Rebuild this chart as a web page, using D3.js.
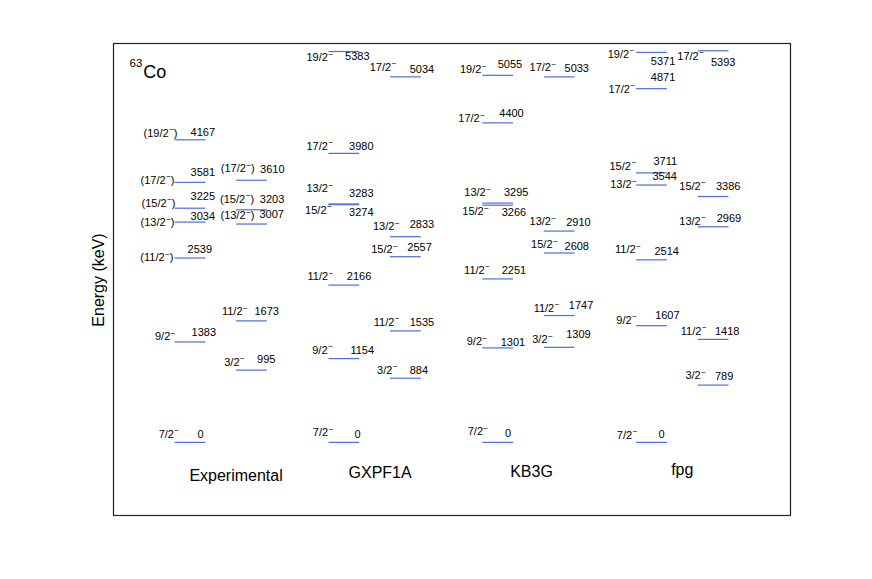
<!DOCTYPE html>
<html>
<head>
<meta charset="utf-8">
<script src="https://cdn.jsdelivr.net/npm/d3@7"></script>
<style>
    body { margin: 0; background: #fff; }
    svg { font-family: "Liberation Sans", Arial, Helvetica, sans-serif; }
</style>
</head>
<body>
<div id="chart"></div>
<script>
// models shown along the bottom
const models = ["Experimental", "GXPF1A", "KB3G", "fpg"];

// experimental levels (column 0 = left stack, 1 = right stack)
const expSpins = ["7/2−", "9/2−", "(11/2−)", "(13/2−)", "(15/2−)", "(17/2−)", "(19/2−)",
    "3/2−", "11/2−", "(13/2−)", "(15/2−)", "(17/2−)"];
const expEnergies = [0, 1383, 2539, 3034, 3225, 3581, 4167, 995, 1673, 3007, 3203, 3610];
const expColumns = [0, 0, 0, 0, 0, 0, 0, 1, 1, 1, 1, 1];

// GXPF1A
const gxSpins = ["7/2−", "9/2−", "11/2−", "15/2−", "13/2−", "17/2−", "19/2−",
    "3/2−", "11/2−", "15/2−", "13/2−", "17/2−"];
const gxEnergies = [0, 1154, 2166, 3274, 3283, 3980, 5383, 884, 1535, 2557, 2833, 5034];
const gxColumns = [0, 0, 0, 0, 0, 0, 0, 1, 1, 1, 1, 1];

// KB3G
const kbSpins = ["7/2−", "9/2−", "11/2−", "15/2−", "13/2−", "17/2−", "19/2−",
    "3/2−", "11/2−", "15/2−", "13/2−", "17/2−"];
const kbEnergies = [0, 1301, 2251, 3266, 3295, 4400, 5055, 1309, 1747, 2608, 2910, 5033];
const kbColumns = [0, 0, 0, 0, 0, 0, 0, 1, 1, 1, 1, 1];

// fpg
const fpgSpins = ["7/2−", "9/2−", "11/2−", "13/2−", "15/2−", "17/2−", "19/2−",
    "3/2−", "11/2−", "13/2−", "15/2−", "17/2−"];
const fpgEnergies = [0, 1607, 2514, 3544, 3711, 4871, 5371, 789, 1418, 2969, 3386, 5393];
const fpgColumns = [0, 0, 0, 0, 0, 0, 0, 1, 1, 1, 1, 1];

// label nudges (px): [spin dx, spin dy, energy dx, energy dy], same order as above
const expNudges = [[4.7, -4.7, 23, -4.7], [1, -1.6, 17, -5.6], [-1, 3.4, 13, -5.3], [0, 4, 16, -1.7],
    [1, -1.5, 16, -7.8], [0, 1.3, 16, -6], [3, -3, 16, -3.4], [8.7, -4.4, 21, -7],
    [11.7, -5.5, 18.4, -5.5], [18.4, -5, 23.4, -6], [18, -7, 23.7, -7], [18.7, -8, 24, -7.5]];
const gxNudges = [[5, -6, 26, -4.7], [4.4, -5, 22, -5], [5, -4.7, 18.4, -4.7], [3.4, 9, 20.7, 11],
    [4.7, -11.6, 20.7, -6.6], [4.7, -3.7, 20.7, -3.7], [4.7, 10, 16.7, 9], [7.7, -4.5, 19.7, -4.5],
    [9.7, -5, 19.7, -5], [8, -3.7, 17.4, -5.3], [9.7, -6.3, 19.7, -8.7], [6.4, -6, 19.7, -4]];
const kbNudges = [[6, -7, 22.7, -5.4], [5, -2.5, 18.4, -2.2], [7.7, -5.2, 19.4, -5.2], [6.7, 10.2, 19.4, 11],
    [8.7, -6.7, 21.7, -6.7], [2.7, -0.5, 17, -6], [4.4, -2.3, 15.4, -7.3], [9, -4.3, 22.4, -9.3],
    [15.7, -4, 25, -6.5], [14, -5, 20.7, -3.3], [12.4, -6, 22.4, -5.4], [12.4, -5.5, 20.7, -5]];
const fpgNudges = [[1.3, -3.4, 22.3, -4.4], [0.7, -2, 19, -6.7], [4.7, -6.7, 18.3, -5], [0.7, 3, 16.3, -5.3],
    [0, -3.2, 17.3, -8.2], [-1, 4.3, 14.7, -7.3], [-1.7, 5.6, 14.7, 12.3], [8.3, -6, 17.3, -5.4],
    [9, -4.7, 17.3, -4.7], [8.3, -2, 19, -4.4], [8.3, -6.7, 18.3, -6.7], [6.3, 9, 13.3, 15]];

// model name positions (x in column units, y in keV)
const modelLabelX = [4.0, 8.68, 13.6, 18.5];
const modelLabelE = [-530, -490, -470, -445];

const width = 872;
const height = 579;
const frame = { left: 113, right: 790, top: 43, bottom: 515 };
const lineColor = "#4f69ea";

const svg = d3.select("#chart").append("svg")
    .attr("width", width)
    .attr("height", height)
    .attr("viewBox", [0, 0, width, height]);

// scales
const xScale = d3.scaleLinear().domain([0, 22]).range([frame.left, frame.right]);
const yScale = d3.scaleLinear().domain([-1000, 5500]).range([frame.bottom, frame.top]);

// build one table from the arrays
const groups = [
    [expSpins, expEnergies, expColumns, expNudges],
    [gxSpins, gxEnergies, gxColumns, gxNudges],
    [kbSpins, kbEnergies, kbColumns, kbNudges],
    [fpgSpins, fpgEnergies, fpgColumns, fpgNudges]
];
const levels = [];
groups.forEach(([spins, energies, cols, nudges], m) => {
    energies.forEach((e, i) => {
        levels.push({
            model: m,
            spin: spins[i],
            energy: e,
            start: 2 + 5 * m + 2 * cols[i],
            nudge: nudges[i]
        });
    });
});

// frame
svg.append("rect")
    .attr("x", frame.left + 0.5)
    .attr("y", frame.top + 0.5)
    .attr("width", frame.right - frame.left)
    .attr("height", frame.bottom - frame.top)
    .attr("fill", "none")
    .attr("stroke", "#222")
    .attr("stroke-width", 1.2);

// level lines
svg.append("g").selectAll("line")
    .data(levels)
    .join("line")
    .attr("x1", d => xScale(d.start))
    .attr("x2", d => xScale(d.start + 1))
    .attr("y1", d => yScale(d.energy))
    .attr("y2", d => yScale(d.energy))
    .attr("stroke", lineColor)
    .attr("stroke-width", 1.2);

// spin labels, minus sign as superscript
const spinText = svg.append("g").selectAll("text")
    .data(levels)
    .join("text")
    .attr("x", d => xScale(d.start) + d.nudge[0])
    .attr("y", d => yScale(d.energy) + d.nudge[1])
    .attr("text-anchor", "end")
    .attr("font-size", 11)
    .attr("fill", "#000");

spinText.each(function (d) {
    var parts = d.spin.split("−");
    var t = d3.select(this);
    t.append("tspan").text(parts[0]);
    t.append("tspan")
        .attr("font-size", 8)
        .attr("dx", 0.6)
        .attr("dy", -4.5)
        .text("−");
    t.append("tspan")
        .attr("dy", 4.5)
        .text(parts[1] || "");
});

// energy labels
svg.append("g").selectAll("text")
    .data(levels)
    .join("text")
    .attr("x", d => xScale(d.start) + d.nudge[2])
    .attr("y", d => yScale(d.energy) + d.nudge[3])
    .attr("font-size", 11)
    .attr("fill", "#000")
    .text(d => d.energy);

// model names
svg.append("g").selectAll("text")
    .data(models)
    .join("text")
    .attr("x", (d, i) => xScale(modelLabelX[i]))
    .attr("y", (d, i) => yScale(modelLabelE[i]))
    .attr("text-anchor", "middle")
    .attr("font-size", 16)
    .attr("fill", "#000")
    .text(d => d);

// nucleus tag
const tag = svg.append("text")
    .attr("x", 129.5)
    .attr("y", 77.5)
    .attr("fill", "#000");
tag.append("tspan").attr("font-size", 11.5).attr("dy", -10.5).text("63");
tag.append("tspan").attr("font-size", 18).attr("dx", 1).attr("dy", 10.5).text("Co");

// y axis title
svg.append("text")
    .attr("transform", "translate(104,280) rotate(-90)")
    .attr("text-anchor", "middle")
    .attr("font-size", 16)
    .attr("fill", "#000")
    .text("Energy (keV)");
</script>
</body>
</html>
